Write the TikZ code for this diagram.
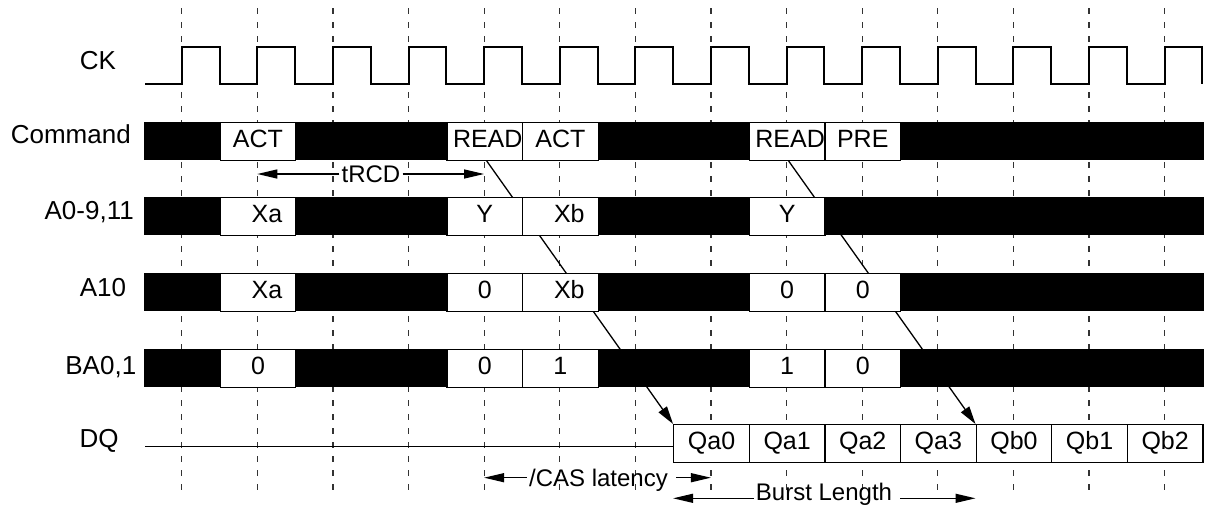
\documentclass[tikz,border=0pt]{standalone}
\usepackage{fontspec}
\setmainfont{Liberation Sans}
\usetikzlibrary{arrows.meta}
\pgfdeclarelayer{bg}
\pgfsetlayers{bg,main}
\begin{document}
\begin{tikzpicture}[x=0.5pt,y=-0.5pt,
  sig/.style={font=\fontsize{13}{15}\selectfont, anchor=base, inner sep=0pt},
  cell/.style={draw, fill=white, line width=0.65pt, minimum width=37.8pt, minimum height=19pt,
    inner sep=0pt, anchor=north west, text height=8.95pt, text depth=3.2pt,
    font=\fontsize{12.5}{14}\selectfont},
  bar/.style={fill=black},
  gridline/.style={draw=black!80, line width=0.6pt, dash pattern=on 3.2pt off 3.8pt},
  clk/.style={line width=1pt},
  conn/.style={line width=0.65pt, -{Triangle[length=9pt,width=5pt]}},
  dim/.style={line width=0.65pt, -{Triangle[length=10pt,width=4.5pt]}},
  note/.style={font=\fontsize{12}{14}\selectfont, inner sep=1pt, text height=8.6pt, text depth=0pt}
]
\useasboundingbox (0,0) rectangle (1206,509);

% clock
\draw[clk] (145,84) \foreach \k in {0,...,13} { -- ({181.7+75.6*\k},84) -- ++(0,-37.3) -- ++(37.8,0) -- ++(0,37.3) };

% bars
\foreach \t in {121.7,196.7,272.7,348.7} \fill[bar] (144,\t) rectangle (1204,{\t+38});

% signal labels
\node[sig] (lck)  at (98,69.3)     {CK};
\node[sig] (lcmd) at (70.8,143.6) {Command};
\node[sig] (la0)  at (89.2,219.8) {A0-9,11};
\node[sig] (la10) at (103,296.8)  {A10};
\node[sig] (lba)  at (100.8,374.3)  {BA0,1};
\node[sig] (ldq)  at (99,447.3)     {DQ};

% command row
\node[cell] (c1) at (219.5,121.7) {ACT};
\node[cell] (c2) at (446.3,121.7) {\hspace*{3pt}READ};
\node[cell] (c3) at (521.9,121.7) {ACT};
\node[cell] (c4) at (748.7,121.7) {\hspace*{3pt}READ};
\node[cell] (c5) at (824.3,121.7) {PRE};

% A0-9,11 row
\node[cell] (a1) at (219.5,196.7) {\hspace*{9pt}Xa};
\node[cell] (a2) at (446.3,196.7) {Y};
\node[cell] (a3) at (521.9,196.7) {\hspace*{9pt}Xb};
\node[cell] (a4) at (748.7,196.7) {Y};

% A10 row
\node[cell] (b1) at (219.5,272.7) {\hspace*{9pt}Xa};
\node[cell] (b2) at (446.3,272.7) {0};
\node[cell] (b3) at (521.9,272.7) {\hspace*{9pt}Xb};
\node[cell] (b4) at (748.7,272.7) {0};
\node[cell] (b5) at (824.3,272.7) {0};

% BA0,1 row
\node[cell] (d1) at (219.5,348.7) {0};
\node[cell] (d2) at (446.3,348.7) {0};
\node[cell] (d3) at (521.9,348.7) {1};
\node[cell] (d4) at (748.7,348.7) {1};
\node[cell] (d5) at (824.3,348.7) {0};

% DQ row
\node[cell] (q0) at (673.1,424) {Qa0};
\node[cell] (q1) at (748.7,424) {Qa1};
\node[cell] (q2) at (824.3,424) {Qa2};
\node[cell] (q3) at (899.9,424) {Qa3};
\node[cell] (q4) at (975.5,424) {Qb0};
\node[cell] (q5) at (1051.1,424) {Qb1};
\node[cell] (q6) at (1126.7,424) {Qb2};

\coordinate (dqs) at (145,446.7);
\draw[line width=0.65pt] (dqs) -- (dqs -| q0.west);

% background: grid and latency connectors
\begin{pgfonlayer}{bg}
  \foreach \k in {0,...,13} \draw[gridline] ({181.7+75.6*\k},8) -- ({181.7+75.6*\k},493);
  \draw[conn] ([xshift=1pt]c2.south) -- (q0.north west);
  \draw[conn] ([xshift=0.75pt]c4.south) -- (q4.north west);
\end{pgfonlayer}

% tRCD
\node[note] (trcd) at (371,174) {tRCD};
\coordinate (trcdL) at (257.3,174);
\coordinate (trcdR) at (484.1,174);
\draw[dim] (trcd.west) -- (trcdL);
\draw[dim] (trcd.east) -- (trcdR);

% CAS latency
\node[note] (cas) at (598.5,477.7) {/CAS latency};
\coordinate (casL) at (484.1,477.7);
\coordinate (casR) at (710.9,477.7);
\draw[dim] (cas.west) -- (casL);
\draw[dim] ([xshift=3pt]cas.east) -- (casR);

% Burst length
\node[note] (burst) at (824,491.5) {Burst Length};
\coordinate (bL) at (673.1,498.3);
\coordinate (bR) at (975.5,498.3);
\draw[dim] (bL -| burst.west) -- (bL);
\draw[dim] ([xshift=3pt]bR -| burst.east) -- (bR);
\end{tikzpicture}
\end{document}
